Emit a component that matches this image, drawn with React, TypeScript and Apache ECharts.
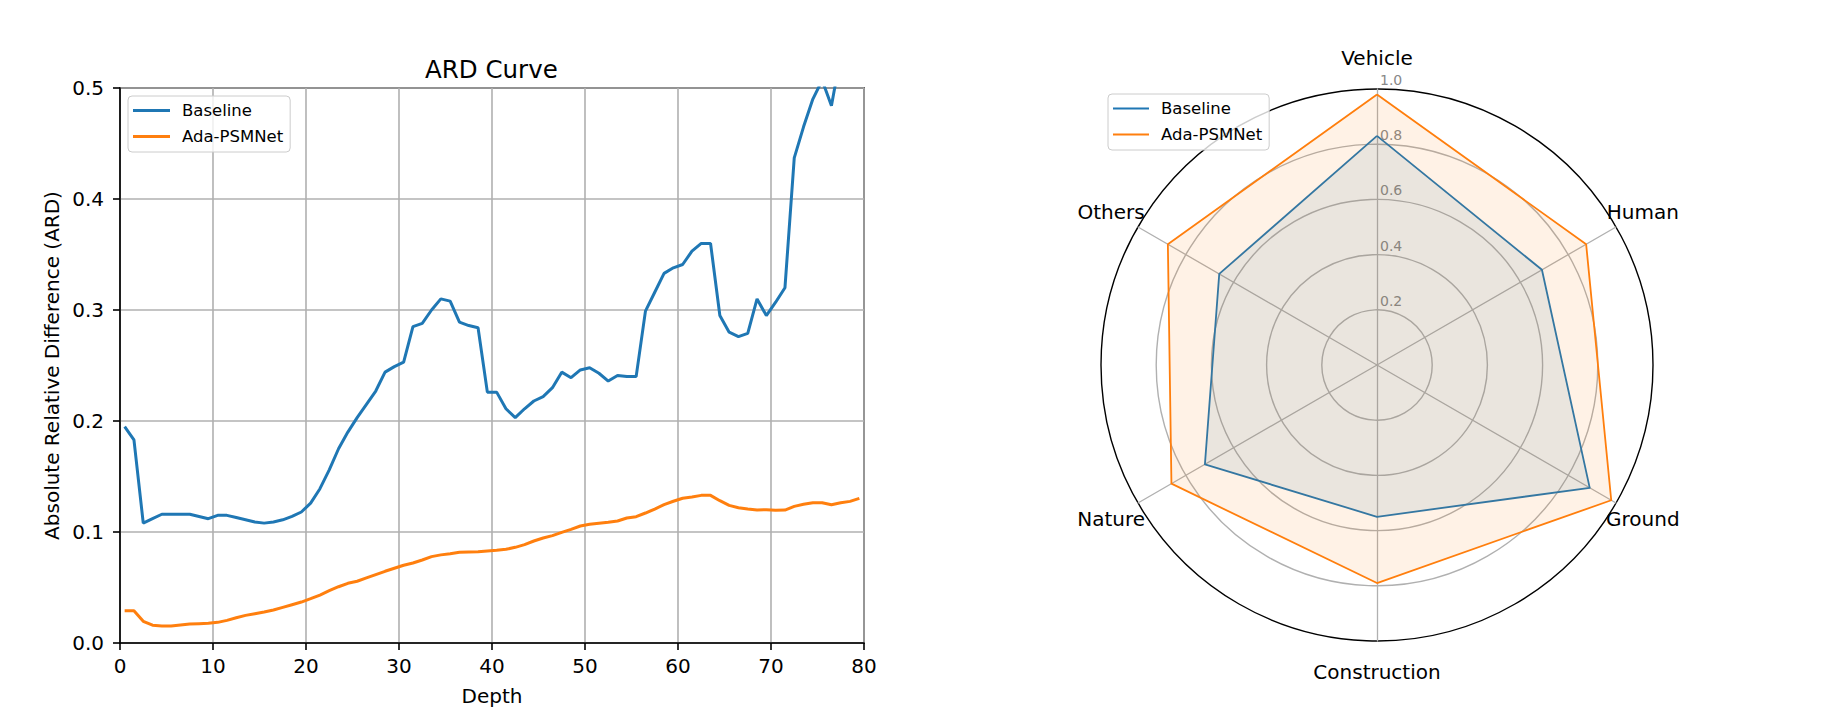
import React, { useEffect, useRef } from "react";
import * as echarts from "echarts";

// ---------- data ----------
const DEPTHS = [
  0.5, 1.5, 2.5, 3.5, 4.5, 5.5, 6.5, 7.5, 8.5, 9.5,
  10.5, 11.5, 12.5, 13.5, 14.5, 15.5, 16.5, 17.5, 18.5, 19.5,
  20.5, 21.5, 22.5, 23.5, 24.5, 25.5, 26.5, 27.5, 28.5, 29.5,
  30.5, 31.5, 32.5, 33.5, 34.5, 35.5, 36.5, 37.5, 38.5, 39.5,
  40.5, 41.5, 42.5, 43.5, 44.5, 45.5, 46.5, 47.5, 48.5, 49.5,
  50.5, 51.5, 52.5, 53.5, 54.5, 55.5, 56.5, 57.5, 58.5, 59.5,
  60.5, 61.5, 62.5, 63.5, 64.5, 65.5, 66.5, 67.5, 68.5, 69.5,
  70.5, 71.5, 72.5, 73.5, 74.5, 75.5, 76.5, 77.5, 78.5, 79.5,
];

const BASELINE_ARD = [
  0.195, 0.183, 0.108, 0.112, 0.116, 0.116, 0.116, 0.116, 0.114, 0.112,
  0.115, 0.115, 0.113, 0.111, 0.109, 0.108, 0.109, 0.111, 0.114, 0.118,
  0.126, 0.139, 0.156, 0.175, 0.19, 0.203, 0.215, 0.227, 0.244, 0.249,
  0.253, 0.285, 0.288, 0.3, 0.31, 0.308, 0.289, 0.286, 0.284, 0.226,
  0.226, 0.211, 0.203, 0.211, 0.218, 0.222, 0.23, 0.244, 0.239, 0.246,
  0.248, 0.243, 0.236, 0.241, 0.24, 0.24, 0.299, 0.316, 0.333, 0.338,
  0.341, 0.353, 0.36, 0.36, 0.295, 0.28, 0.276, 0.279, 0.31, 0.295,
  0.307, 0.32, 0.437, 0.465, 0.49, 0.507, 0.484, 0.53, 0.56, 0.58,
];

const ADA_ARD = [
  0.029, 0.029, 0.0195, 0.016, 0.0153, 0.0153, 0.0162, 0.0171, 0.0174, 0.0177,
  0.0186, 0.0204, 0.0228, 0.0249, 0.0264, 0.0279, 0.0297, 0.0321, 0.0345, 0.0369,
  0.0399, 0.0432, 0.0471, 0.0507, 0.0538, 0.0556, 0.0586, 0.0616, 0.0646, 0.0673,
  0.07, 0.0721, 0.0748, 0.0778, 0.0794, 0.0805, 0.0817, 0.082, 0.0823, 0.0829,
  0.0835, 0.0844, 0.0862, 0.0886, 0.0919, 0.0946, 0.0967, 0.0997, 0.1024, 0.1054,
  0.1069, 0.1078, 0.1087, 0.1099, 0.1126, 0.1138, 0.1171, 0.1207, 0.1246, 0.1277,
  0.1304, 0.1315, 0.133, 0.133, 0.1282, 0.124, 0.1219, 0.1207, 0.1198, 0.1201,
  0.1195, 0.1198, 0.1231, 0.125, 0.1264, 0.1264, 0.1246, 0.1264, 0.1276, 0.1303,
];

// radar categories in ECharts' counter-clockwise order starting at the top
const RADAR_CATEGORIES = ["Vehicle", "Others", "Nature", "Construction", "Ground", "Human"];
const RADAR_BASELINE = [0.83, 0.66, 0.72, 0.55, 0.89, 0.69];
const RADAR_ADA = [0.98, 0.875, 0.86, 0.79, 0.98, 0.875];

const SERIES_NAMES = ["Baseline", "Ada-PSMNet"];
const X_TICKS = { min: 0, max: 80, interval: 10 };
const Y_TICKS = { min: 0, max: 0.5, interval: 0.1 };

// ---------- styles / layout ----------
const FONT = "DejaVu Sans";
const BLUE = "#1f77b4";
const ORANGE = "#ff7f0e";
const GRID_GRAY = "#b0b0b0";
const RADAR_CX = 1377;
const RADAR_CY = 365;
const RADAR_R = 276;
const LABEL_R = 307;

export default function App() {
  const ref = useRef<HTMLDivElement>(null);

  useEffect(() => {
    if (!ref.current) return;
    const chart = echarts.init(ref.current, undefined, { renderer: "svg" });

    const legendCommon = {
      orient: "vertical",
      icon: "rect",
      itemGap: 9,
      padding: [6, 7, 7, 5],
      borderColor: "#cccccc",
      borderWidth: 1,
      borderRadius: 4,
      backgroundColor: "rgba(255,255,255,0.8)",
      selectedMode: false,
      textStyle: { fontSize: 16.5, color: "#000", fontFamily: FONT, padding: [0, 0, 0, 7] },
      data: SERIES_NAMES,
    };

    const nameGraphics = RADAR_CATEGORIES.map((name, i) => {
      const a = ((90 + i * 60) * Math.PI) / 180;
      return {
        type: "text",
        x: RADAR_CX + LABEL_R * Math.cos(a),
        y: RADAR_CY - LABEL_R * Math.sin(a),
        silent: true,
        style: {
          text: name,
          fill: "#000",
          fontSize: 20,
          fontFamily: FONT,
          align: "center",
          verticalAlign: "middle",
        },
      };
    });

    const option: any = {
      animation: false,
      backgroundColor: "#fff",
      textStyle: { fontFamily: FONT },
      title: {
        text: "ARD Curve",
        left: 420,
        top: 52,
        textStyle: { fontSize: 24.5, fontWeight: "normal", color: "#000", fontFamily: FONT },
      },
      legend: [
        { ...legendCommon, left: 128, top: 96, itemWidth: 37, itemHeight: 3 },
        { ...legendCommon, left: 1108, top: 94, itemWidth: 36, itemHeight: 2 },
      ],
      grid: {
        left: 120,
        top: 88,
        width: 744,
        height: 555,
        show: true,
        borderColor: "#000",
        borderWidth: 1.6,
        backgroundColor: "transparent",
        containLabel: false,
      },
      xAxis: {
        type: "value",
        min: X_TICKS.min,
        max: X_TICKS.max,
        interval: X_TICKS.interval,
        name: "Depth",
        nameLocation: "middle",
        nameGap: 43,
        nameTextStyle: { fontSize: 20, color: "#000", fontFamily: FONT },
        axisLine: { show: true, lineStyle: { color: "#000", width: 1.6 } },
        axisTick: { show: true, inside: false, length: 7, lineStyle: { color: "#000", width: 1.6 } },
        axisLabel: { color: "#000", fontSize: 20, margin: 13, fontFamily: FONT },
        splitLine: { show: true, lineStyle: { color: GRID_GRAY, width: 1.6 } },
      },
      yAxis: {
        type: "value",
        min: Y_TICKS.min,
        max: Y_TICKS.max,
        interval: Y_TICKS.interval,
        name: "Absolute Relative Difference (ARD)",
        nameLocation: "middle",
        nameGap: 58,
        nameTextStyle: { fontSize: 20, color: "#000", fontFamily: FONT },
        axisLine: { show: true, lineStyle: { color: "#000", width: 1.6 } },
        axisTick: { show: true, inside: false, length: 7, lineStyle: { color: "#000", width: 1.6 } },
        axisLabel: {
          color: "#000",
          fontSize: 20,
          margin: 16,
          fontFamily: FONT,
          formatter: (v: number) => v.toFixed(1),
        },
        splitLine: { show: true, lineStyle: { color: GRID_GRAY, width: 1.6 } },
      },
      radar: {
        center: [RADAR_CX, RADAR_CY],
        radius: RADAR_R,
        startAngle: 90,
        shape: "circle",
        splitNumber: 5,
        indicator: RADAR_CATEGORIES.map((name, i) =>
          i === 0
            ? {
                name,
                min: 0,
                max: 1,
                axisLabel: {
                  show: true,
                  showMinLabel: false,
                  color: "#888888",
                  fontSize: 14,
                  fontFamily: FONT,
                  margin: -3,
                  align: "left",
                  verticalAlign: "bottom",
                  padding: [0, 0, 2, 0],
                  formatter: (v: number) => v.toFixed(1),
                },
              }
            : { name, min: 0, max: 1 }
        ),
        axisName: { show: false },
        axisLine: { lineStyle: { color: GRID_GRAY, width: 1.3 } },
        splitLine: {
          lineStyle: {
            color: [GRID_GRAY, GRID_GRAY, GRID_GRAY, GRID_GRAY, GRID_GRAY, "#000"],
            width: 1.4,
          },
        },
        splitArea: { show: false },
        axisTick: { show: false },
        axisLabel: { show: false },
      },
      graphic: nameGraphics,
      series: [
        {
          name: SERIES_NAMES[0],
          type: "line",
          data: DEPTHS.map((d, i) => [d, BASELINE_ARD[i]]),
          showSymbol: false,
          symbol: "none",
          clip: true,
          lineStyle: { color: BLUE, width: 3 },
          itemStyle: { color: BLUE },
        },
        {
          name: SERIES_NAMES[1],
          type: "line",
          data: DEPTHS.map((d, i) => [d, ADA_ARD[i]]),
          showSymbol: false,
          symbol: "none",
          clip: true,
          lineStyle: { color: ORANGE, width: 3 },
          itemStyle: { color: ORANGE },
        },
        {
          type: "radar",
          radarIndex: 0,
          symbol: "none",
          data: [
            {
              name: SERIES_NAMES[0],
              value: RADAR_BASELINE,
              lineStyle: { color: BLUE, width: 1.8 },
              itemStyle: { color: BLUE },
              areaStyle: { color: BLUE, opacity: 0.1 },
            },
            {
              name: SERIES_NAMES[1],
              value: RADAR_ADA,
              lineStyle: { color: ORANGE, width: 1.8 },
              itemStyle: { color: ORANGE },
              areaStyle: { color: ORANGE, opacity: 0.1 },
            },
          ],
        },
      ],
    };

    chart.setOption(option);
    return () => chart.dispose();
  }, []);

  return (
    <div
      ref={ref}
      style={{ position: "fixed", left: 0, top: 0, width: 1845, height: 722, background: "#fff" }}
    />
  );
}
